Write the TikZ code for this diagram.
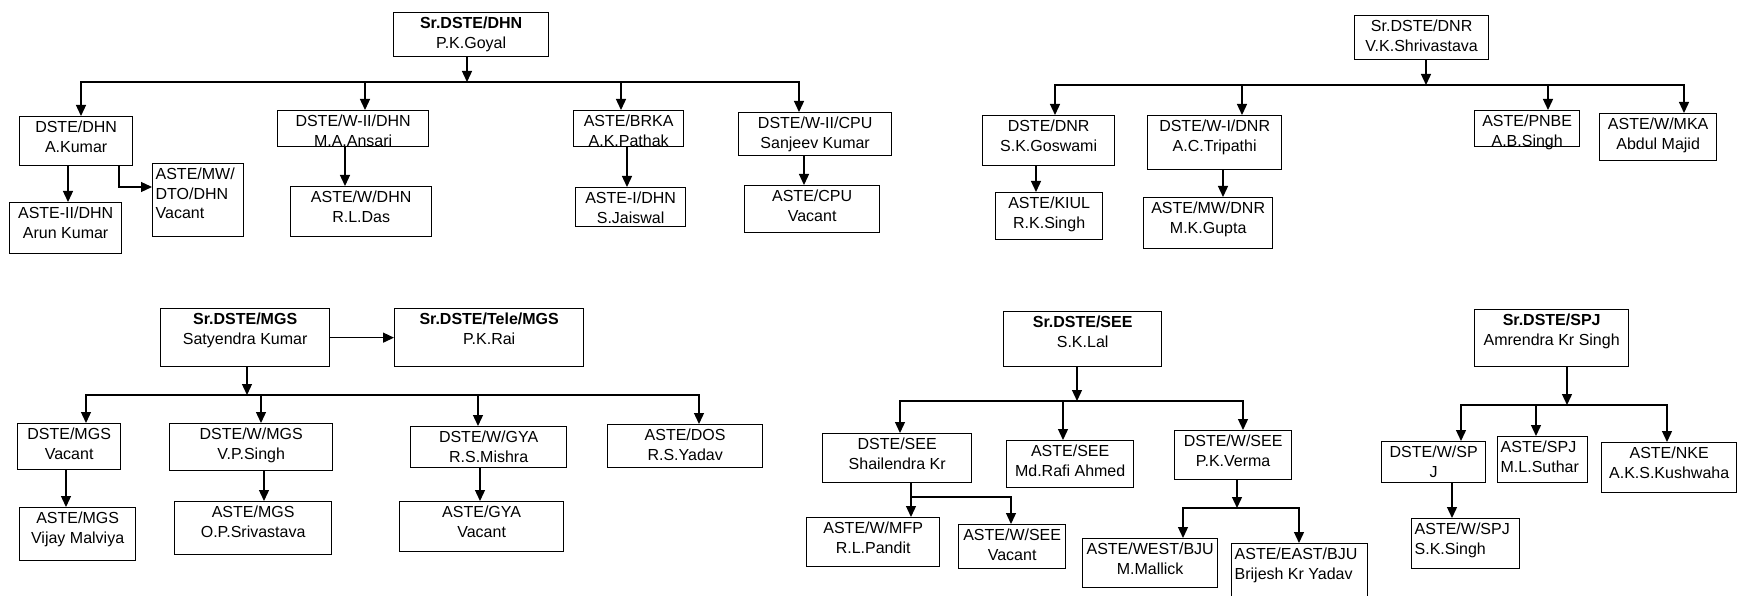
\documentclass[tikz,border=0pt]{standalone}
\usepackage{fontspec}
\setmainfont{Liberation Sans}
\usepackage{tikz}
\usetikzlibrary{arrows.meta}
\tikzstyle{post} = [rectangle, draw=black, line width=1.3pt, inner sep=0pt, anchor=north west, font=\fontsize{16}{19.5}\selectfont]
\tikzstyle{arrow} = [line width=1.3pt, -{Triangle[length=11pt,width=10pt]}]
\tikzstyle{link} = [line width=1.3pt, line cap=rect]
\newcommand{\postc}[3]{\parbox[c][#2pt][t]{#1pt}{\centering\vspace*{4.5pt}#3}}
\newcommand{\postl}[3]{\parbox[c][#2pt][t]{#1pt}{\raggedright\leftskip=3pt\vspace*{4.5pt}#3}}

\begin{document}
\begin{tikzpicture}[x=1pt, y=-1pt]
\useasboundingbox (0,0) rectangle (1737,596);

% DHN
\node (dhn) [post] at (393,12) {\postc{155}{44}{\textbf{Sr.DSTE/DHN}\\P.K.Goyal}};
\node (dstedhn) [post] at (19,116) {\postc{113}{49}{DSTE/DHN\\A.Kumar}};
\node (asteiidhn) [post] at (9,202) {\postc{112}{51}{ASTE-II/DHN\\Arun Kumar}};
\node (mwdto) [post] at (152,163) {\postl{91}{73}{ASTE/MW/\\DTO/DHN\\Vacant}};
\node (wiidhn) [post] at (277,110) {\postc{151}{36}{DSTE/W-II/DHN\\M.A.Ansari}};
\node (wdhn) [post] at (290,186) {\postc{141}{50}{ASTE/W/DHN\\R.L.Das}};
\node (brka) [post] at (573,110) {\postc{110}{36}{ASTE/BRKA\\A.K.Pathak}};
\node (asteidhn) [post] at (575,187) {\postc{110}{39}{ASTE-I/DHN\\S.Jaiswal}};
\node (wiicpu) [post] at (738,112) {\postc{153}{43}{DSTE/W-II/CPU\\Sanjeev Kumar}};
\node (cpu) [post] at (744,185) {\postc{135}{47}{ASTE/CPU\\Vacant}};

\coordinate (dhnj) at (467,82);
\coordinate (dhnl) at (81,82);
\coordinate (dhnb) at (365,82);
\coordinate (dhnc) at (621,82);
\coordinate (dhnr) at (799,82);
\coordinate (dhnk1) at (68,190);
\coordinate (dhnm) at (119,187);
\coordinate (dhnk2) at (345,170);
\coordinate (dhnk3) at (627,170);
\coordinate (dhnk4) at (804,170);

\draw [arrow] (dhn.south -| dhnj) -- (dhnj);
\draw [link] (dhnl) -- (dhnr);
\draw [arrow] (dhnl) -- (dhnl |- dstedhn.north);
\draw [arrow] (dhnb) -- (dhnb |- wiidhn.north);
\draw [arrow] (dhnc) -- (dhnc |- brka.north);
\draw [arrow] (dhnr) -- (dhnr |- wiicpu.north);
\draw [arrow] (dstedhn.south -| dhnk1) -- (asteiidhn.north -| dhnk1);
\draw [arrow] (dstedhn.south -| dhnm) -- (dhnm) -- (mwdto.west |- dhnm);
\draw [arrow] (wiidhn.south -| dhnk2) -- (wdhn.north -| dhnk2);
\draw [arrow] (brka.south -| dhnk3) -- (asteidhn.north -| dhnk3);
\draw [arrow] (wiicpu.south -| dhnk4) -- (cpu.north -| dhnk4);

% DNR
\node (dnr) [post] at (1354,15) {\postc{134}{44}{Sr.DSTE/DNR\\V.K.Shrivastava}};
\node (dstednr) [post] at (982,115) {\postc{132}{50}{DSTE/DNR\\S.K.Goswami}};
\node (kiul) [post] at (995,192) {\postc{107}{47}{ASTE/KIUL\\R.K.Singh}};
\node (widnr) [post] at (1147,115) {\postc{134}{54}{DSTE/W-I/DNR\\A.C.Tripathi}};
\node (mwdnr) [post] at (1143,197) {\postc{129}{51}{ASTE/MW/DNR\\M.K.Gupta}};
\node (pnbe) [post] at (1474,110) {\postc{105}{36}{ASTE/PNBE\\A.B.Singh}};
\node (mka) [post] at (1599,113) {\postc{117}{47}{ASTE/W/MKA\\Abdul Majid}};

\coordinate (dnrj) at (1426,85);
\coordinate (dnrl) at (1055,85);
\coordinate (dnrb) at (1242,85);
\coordinate (dnrc) at (1548,85);
\coordinate (dnrr) at (1684,85);
\coordinate (dnrk1) at (1036,180);
\coordinate (dnrk2) at (1223,180);

\draw [arrow] (dnr.south -| dnrj) -- (dnrj);
\draw [link] (dnrl) -- (dnrr);
\draw [arrow] (dnrl) -- (dnrl |- dstednr.north);
\draw [arrow] (dnrb) -- (dnrb |- widnr.north);
\draw [arrow] (dnrc) -- (dnrc |- pnbe.north);
\draw [arrow] (dnrr) -- (dnrr |- mka.north);
\draw [arrow] (dstednr.south -| dnrk1) -- (kiul.north -| dnrk1);
\draw [arrow] (widnr.south -| dnrk2) -- (mwdnr.north -| dnrk2);

% MGS
\node (mgs) [post] at (160,308) {\postc{169}{58}{\textbf{Sr.DSTE/MGS}\\Satyendra Kumar}};
\node (tele) [post] at (394,308) {\postc{189}{58}{\textbf{Sr.DSTE/Tele/MGS}\\P.K.Rai}};
\node (dstemgs) [post] at (17,423) {\postc{103}{46}{DSTE/MGS\\Vacant}};
\node (vijay) [post] at (19,507) {\postc{116}{53}{ASTE/MGS\\Vijay Malviya}};
\node (wmgs) [post] at (169,423) {\postc{163}{47}{DSTE/W/MGS\\V.P.Singh}};
\node (opmgs) [post] at (174,501) {\postc{157}{53}{ASTE/MGS\\O.P.Srivastava}};
\node (wgya) [post] at (410,426) {\postc{156}{41}{DSTE/W/GYA\\R.S.Mishra}};
\node (gya) [post] at (399,501) {\postc{164}{50}{ASTE/GYA\\Vacant}};
\node (dos) [post] at (607,424) {\postc{155}{43}{ASTE/DOS\\R.S.Yadav}};

\coordinate (mgsj) at (247,395);
\coordinate (mgsl) at (86,395);
\coordinate (mgsb) at (261,395);
\coordinate (mgsc) at (478,395);
\coordinate (mgsr) at (699,395);
\coordinate (mgsk1) at (66,490);
\coordinate (mgsk2) at (264,490);
\coordinate (mgsk3) at (480,490);

\draw [arrow] (mgs) -- (tele);
\draw [arrow] (mgs.south -| mgsj) -- (mgsj);
\draw [link] (mgsl) -- (mgsr);
\draw [arrow] (mgsl) -- (mgsl |- dstemgs.north);
\draw [arrow] (mgsb) -- (mgsb |- wmgs.north);
\draw [arrow] (mgsc) -- (mgsc |- wgya.north);
\draw [arrow] (mgsr) -- (mgsr |- dos.north);
\draw [arrow] (dstemgs.south -| mgsk1) -- (vijay.north -| mgsk1);
\draw [arrow] (wmgs.south -| mgsk2) -- (opmgs.north -| mgsk2);
\draw [arrow] (wgya.south -| mgsk3) -- (gya.north -| mgsk3);

% SEE
\node (see) [post] at (1003,311) {\postc{158}{55}{\textbf{Sr.DSTE/SEE}\\S.K.Lal}};
\node (dstesee) [post] at (822,433) {\postc{149}{49}{DSTE/SEE\\Shailendra Kr}};
\node (astesee) [post] at (1006,440) {\postc{127}{47}{ASTE/SEE\\Md.Rafi Ahmed}};
\node (wsee) [post] at (1174,430) {\postc{117}{49}{DSTE/W/SEE\\P.K.Verma}};
\node (mfp) [post] at (806,517) {\postc{133}{49}{ASTE/W/MFP\\R.L.Pandit}};
\node (vsee) [post] at (958,524) {\postc{107}{44}{ASTE/W/SEE\\Vacant}};
\node (westbju) [post] at (1082,538) {\postc{135}{49}{ASTE/WEST/BJU\\M.Mallick}};
\node (eastbju) [post] at (1231,543) {\postl{136}{53}{ASTE/EAST/BJU\\Brijesh Kr Yadav}};

\coordinate (seej) at (1077,401);
\coordinate (seel) at (900,401);
\coordinate (seeb) at (1063,401);
\coordinate (seer) at (1243,401);
\coordinate (seek) at (911,497);
\coordinate (seem) at (1011,497);
\coordinate (bjuj) at (1237,508);
\coordinate (bjul) at (1183,508);
\coordinate (bjur) at (1299,508);

\draw [arrow] (see.south -| seej) -- (seej);
\draw [link] (seel) -- (seer);
\draw [arrow] (seel) -- (seel |- dstesee.north);
\draw [arrow] (seeb) -- (seeb |- astesee.north);
\draw [arrow] (seer) -- (seer |- wsee.north);
\draw [arrow] (dstesee.south -| seek) -- (mfp.north -| seek);
\draw [link] (seek) -- (seem);
\draw [arrow] (seem) -- (seem |- vsee.north);
\draw [arrow] (wsee.south -| bjuj) -- (bjuj);
\draw [link] (bjul) -- (bjur);
\draw [arrow] (bjul) -- (bjul |- westbju.north);
\draw [arrow] (bjur) -- (bjur |- eastbju.north);

% SPJ
\node (spj) [post] at (1474,309) {\postc{154}{57}{\textbf{Sr.DSTE/SPJ}\\Amrendra Kr Singh}};
\node (wspj) [post] at (1381,441) {\postc{104}{41}{DSTE/W/SP\\J}};
\node (sksingh) [post] at (1411,518) {\postl{108}{50}{ASTE/W/SPJ\\S.K.Singh}};
\node (astespj) [post] at (1497,436) {\postl{90}{46}{ASTE/SPJ\\M.L.Suthar}};
\node (nke) [post] at (1601,442) {\postc{135}{50}{ASTE/NKE\\A.K.S.Kushwaha}};

\coordinate (spjj) at (1567,405);
\coordinate (spjl) at (1461,405);
\coordinate (spjb) at (1536,405);
\coordinate (spjr) at (1667,405);
\coordinate (spjk) at (1452,500);

\draw [arrow] (spj.south -| spjj) -- (spjj);
\draw [link] (spjl) -- (spjr);
\draw [arrow] (spjl) -- (spjl |- wspj.north);
\draw [arrow] (spjb) -- (spjb |- astespj.north);
\draw [arrow] (spjr) -- (spjr |- nke.north);
\draw [arrow] (wspj.south -| spjk) -- (sksingh.north -| spjk);

\end{tikzpicture}
\end{document}
